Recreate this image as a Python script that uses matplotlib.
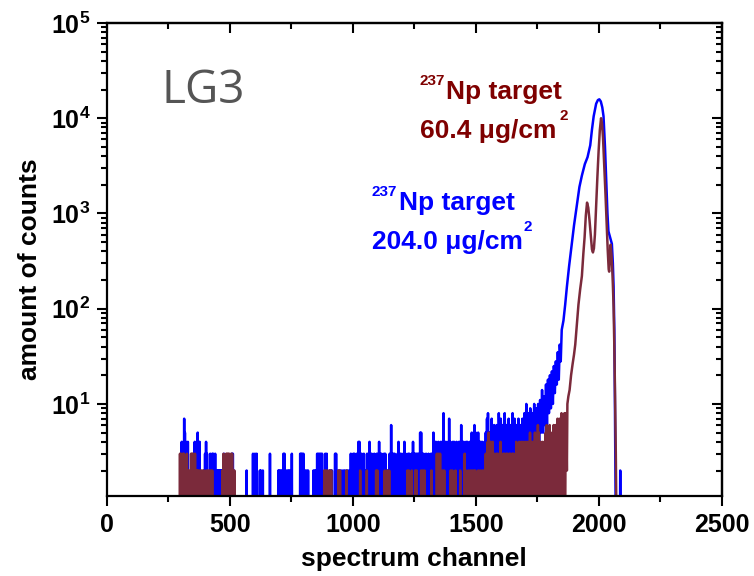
import numpy as np
import matplotlib
matplotlib.use('Agg')
import matplotlib.pyplot as plt
from matplotlib.ticker import MultipleLocator, LogLocator, NullFormatter, LogFormatterMathtext

plt.rcParams.update({
    'font.family': ['Liberation Sans', 'DejaVu Sans'],
    'font.weight': 'bold',
    'mathtext.fontset': 'custom',
    'mathtext.rm': 'Liberation Sans:bold',
    'mathtext.it': 'Liberation Sans:bold',
    'mathtext.bf': 'Liberation Sans:bold',
    'mathtext.default': 'rm',
})

# ---- 204.0 ug/cm2 target (blue) ----------------------------------------
# isolated counts (channel, counts); all other channels of the range are empty
blue_sparse = [
    (304, 4), (308, 3), (311, 4), (314, 7), (317, 5), (321, 4), (325, 3), (329, 4),
    (357, 4), (361, 3), (365, 4), (369, 5), (373, 4), (377, 4),
    (395, 2), (399, 3), (403, 4), (407, 3),
    (420, 3), (424, 2), (428, 3), (432, 3), (436, 2), (440, 3), (444, 2), (448, 2),
    (452, 2), (456, 2), (460, 2), (464, 2), (468, 2), (472, 2), (476, 3),
    (494, 2), (498, 2), (503, 2), (508, 3), (512, 3), (516, 2),
    (568, 2), (594, 3), (598, 2), (602, 3), (609, 3), (622, 2), (626, 2), (634, 2), (663, 3),
    (697, 2), (701, 2), (706, 2), (711, 2), (718, 3), (722, 3), (731, 2), (737, 2),
    (742, 2), (747, 2), (752, 3),
    (786, 3), (790, 3), (794, 3), (799, 3), (806, 2), (812, 2), (818, 2),
    (840, 2), (845, 2), (850, 2), (855, 3), (860, 3), (865, 3), (870, 3), (875, 3),
    (888, 3), (894, 3), (905, 2), (910, 2), (915, 2), (928, 3), (932, 3),
    (942, 2), (948, 2), (955, 2), (962, 2), (968, 2), (975, 2), (981, 2), (988, 2),
    (992, 3), (997, 2), (1002, 3), (1007, 3), (1012, 2), (1016, 3),
    (1023, 4), (1027, 4), (1031, 3), (1036, 3), (1040, 2), (1045, 3), (1050, 2),
    (1058, 3), (1064, 3), (1068, 4), (1072, 3), (1077, 3), (1082, 2), (1087, 3),
    (1092, 2), (1097, 3), (1103, 3), (1107, 4), (1112, 3), (1117, 3), (1122, 2),
    (1127, 3), (1132, 3), (1137, 2), (1142, 2), (1150, 3), (1156, 6), (1160, 3),
    (1165, 3), (1170, 3), (1176, 2), (1182, 3), (1186, 4), (1191, 3), (1196, 3),
    (1200, 2), (1205, 3), (1210, 4), (1215, 3), (1220, 2), (1225, 3), (1230, 3),
    (1235, 2), (1240, 3), (1245, 4), (1250, 3), (1255, 3), (1260, 3), (1265, 3),
    (1270, 3), (1274, 5), (1278, 5), (1283, 3), (1288, 3), (1293, 2), (1298, 3),
    (1303, 2), (1308, 3), (1313, 2), (1318, 3), (1323, 3), (1328, 5), (1333, 4),
    (1338, 4), (1343, 3), (1348, 4), (1353, 3), (1358, 4), (1364, 4), (1369, 8),
    (1374, 4), (1379, 4), (1384, 3), (1388, 4), (1392, 7), (1397, 4), (1402, 3),
    (1407, 4), (1412, 4), (1417, 3), (1422, 4), (1427, 3), (1432, 4), (1437, 4),
    (1441, 6), (1446, 4), (1451, 4), (1456, 3), (1461, 4), (1466, 4), (1471, 3),
    (1476, 4), (1480, 4), (1484, 5), (1490, 4), (1495, 6), (1500, 5), (1505, 4),
    (1510, 5), (1515, 4), (1520, 4), (1526, 4), (1531, 3), (1536, 4), (1541, 5),
    (1546, 7), (1550, 8), (1555, 5),
]
# rising tail, every sample filled
blue_band = [
    (1560, 2), (1565, 7), (1570, 2), (1575, 6), (1580, 3), (1585, 6), (1590, 2), (1594, 8),
    (1598, 3), (1602, 7), (1606, 2), (1610, 6), (1614, 3), (1618, 8), (1622, 2), (1626, 6),
    (1630, 3), (1634, 7), (1638, 2), (1642, 6), (1646, 3), (1650, 8), (1654, 2), (1658, 7),
    (1662, 3), (1666, 6), (1670, 2), (1674, 7), (1678, 3), (1682, 6), (1686, 2), (1690, 7),
    (1694, 3), (1698, 8), (1702, 3), (1706, 10), (1710, 3), (1714, 8), (1718, 4), (1722, 9),
    (1726, 3), (1730, 8), (1734, 4), (1738, 10), (1742, 4), (1746, 9), (1750, 4), (1754, 10),
    (1758, 4), (1762, 11), (1766, 5), (1770, 14), (1774, 5), (1778, 12), (1782, 6), (1786, 16),
    (1790, 6), (1794, 18), (1798, 8), (1802, 20), (1806, 9), (1810, 22), (1814, 10), (1818, 25),
    (1822, 13), (1826, 28), (1830, 16), (1834, 35), (1838, 18), (1842, 42), (1846, 28), (1850, 60),
]
blue_peak = [
    (1857, 75), (1864, 110), (1871, 170), (1880, 280), (1891, 480), (1900, 750), (1912, 1250),
    (1922, 1900), (1932, 2500), (1944, 3300), (1955, 3900), (1966, 5200), (1973, 7600),
    (1980, 10500), (1990, 14200), (1997, 15500), (2003, 15800), (2009, 15000), (2015, 13000),
    (2020, 10500), (2026, 5000), (2031, 2300), (2036, 1000), (2040, 650), (2047, 560),
    (2054, 480), (2058, 300), (2061, 170), (2064, 60), (2066, 14), (2070, 0),
]
blue_after = [(2088, 2)]

# ---- 60.4 ug/cm2 target (brown) ----------------------------------------
brown_sparse = [
    (297, 3), (301, 3), (305, 2), (309, 3), (313, 3), (317, 2), (321, 2), (325, 3), (329, 2),
    (333, 2), (342, 3), (346, 3), (350, 3), (354, 2), (358, 3), (362, 2), (366, 2), (370, 2),
    (376, 2), (382, 2), (388, 2), (394, 2), (404, 2), (410, 2), (416, 2), (422, 2), (428, 2),
    (470, 2), (474, 3), (478, 2), (485, 3), (489, 3), (493, 3), (497, 3), (501, 2), (505, 3),
    (509, 3), (513, 2), (518, 2),
    (884, 2), (890, 2), (897, 2), (905, 2), (912, 2), (942, 2), (948, 2), (975, 2), (1030, 2),
    (1057, 2), (1095, 2), (1100, 2), (1130, 2), (1140, 2), (1148, 2), (1222, 2), (1228, 2),
    (1240, 2), (1254, 2), (1260, 2), (1278, 2), (1285, 2), (1292, 2), (1320, 2), (1342, 3),
    (1348, 3), (1355, 3), (1365, 2), (1372, 2), (1398, 2), (1405, 2), (1418, 2), (1437, 2),
    (1455, 3), (1460, 2), (1470, 2), (1478, 2), (1485, 2), (1492, 2), (1498, 2), (1510, 2),
    (1518, 2), (1526, 2), (1533, 2),
    (1541, 3), (1545, 3), (1549, 4), (1553, 5), (1557, 4), (1561, 4), (1565, 3), (1569, 4),
    (1573, 2), (1577, 3), (1581, 2), (1585, 3), (1589, 3), (1593, 2), (1597, 3), (1601, 4),
    (1605, 3), (1609, 2), (1613, 3), (1617, 3), (1621, 2), (1625, 3), (1629, 3), (1633, 2),
    (1637, 3), (1641, 3), (1645, 2), (1649, 3), (1653, 3), (1657, 2), (1661, 3), (1665, 4),
    (1669, 3), (1673, 3), (1677, 4), (1681, 3), (1685, 4), (1689, 2), (1693, 4), (1697, 3),
    (1701, 4), (1705, 3), (1709, 4), (1713, 3), (1717, 4), (1721, 5), (1725, 3), (1729, 4),
    (1733, 3), (1737, 4), (1741, 5), (1745, 3), (1749, 4), (1753, 6), (1757, 5), (1761, 3),
    (1765, 4), (1769, 3), (1773, 4), (1777, 3), (1781, 4), (1785, 5), (1789, 6), (1793, 4),
    (1797, 5), (1801, 6), (1805, 5), (1809, 4), (1813, 5), (1817, 6), (1821, 5), (1825, 6),
    (1829, 5), (1833, 7), (1837, 6), (1841, 7), (1845, 6), (1849, 8), (1853, 7), (1857, 6),
    (1861, 8),
]
brown_peak = [
    (1866, 8), (1869, 5), (1871, 2), (1873, 10), (1877, 12), (1882, 14), (1888, 20), (1894, 26),
    (1900, 33), (1905, 42), (1912, 70), (1918, 110), (1925, 160), (1932, 220), (1938, 380),
    (1943, 560), (1948, 950), (1953, 1300), (1958, 1150), (1963, 850), (1968, 600), (1973, 420),
    (1977, 390), (1981, 430), (1985, 600), (1990, 1200), (1995, 2400), (2000, 4500),
    (2005, 7500), (2010, 10000), (2014, 8800), (2018, 6200), (2023, 3200), (2028, 1600),
    (2033, 750), (2037, 420), (2041, 260), (2043, 245), (2046, 350), (2049, 470), (2052, 380),
    (2055, 280), (2058, 180), (2061, 105), (2064, 40), (2067, 12), (2070, 3), (2073, 0),
]

BLUE = '#0000ff'
BROWN = '#7b2a3b'
DARKRED = '#7f0000'


def channels(sparse, start, stop):
    ch = np.arange(start, stop)
    n = np.zeros(len(ch))
    for c, v in sparse:
        n[c - start] = v
    return ch, n


def pts(seq):
    return np.array([c for c, _ in seq]), np.array([v for _, v in seq], dtype=float)


def build(parts):
    ch = np.concatenate([p[0] for p in parts])
    n = np.concatenate([p[1] for p in parts])
    return ch, np.where(n < 1, 0.5, n)   # empty channels sit below the axis


bx, by = build([channels(blue_sparse, 250, 1558), pts(blue_band), pts(blue_peak),
                channels(blue_after, 2071, 2500)])
rx, ry = build([channels(brown_sparse, 250, 1865), pts(brown_peak),
                channels([], 2074, 2500)])

fig = plt.figure(figsize=(7.54, 5.76), dpi=100, facecolor='white')
ax = fig.add_axes([107 / 754, 80 / 576, 614.5 / 754, 473 / 576])

ax.plot(bx, by, color=BLUE, lw=1.8)
ax.plot(rx, ry, color=BROWN, lw=1.8)

ax.set_yscale('log')
ax.set_xlim(0, 2500)
ax.set_ylim(1.08, 1e5)

ax.xaxis.set_major_locator(MultipleLocator(500))
ax.xaxis.set_minor_locator(MultipleLocator(250))
ax.yaxis.set_major_locator(LogLocator(base=10, numticks=10))
ax.yaxis.set_minor_locator(LogLocator(base=10, subs=np.arange(2, 10), numticks=20))
ax.yaxis.set_major_formatter(LogFormatterMathtext())
ax.yaxis.set_minor_formatter(NullFormatter())

for s in ax.spines.values():
    s.set_linewidth(1.6)
ax.tick_params(which='both', direction='out', width=1.5, labelsize=18, top=False, right=False)
ax.tick_params(which='major', length=7, pad=5)
ax.tick_params(which='minor', length=4)

# mirrored ticks pointing inwards on top and right
secx = ax.secondary_xaxis('top')
secx.xaxis.set_major_locator(MultipleLocator(500))
secx.xaxis.set_minor_locator(MultipleLocator(250))
secx.tick_params(which='both', direction='in', width=1.5, labeltop=False)
secx.tick_params(which='major', length=7)
secx.tick_params(which='minor', length=4)
secy = ax.secondary_yaxis('right')
secy.tick_params(which='both', direction='in', width=1.5, labelright=False)
secy.tick_params(which='major', length=7)
secy.tick_params(which='minor', length=4)
for sec in (secx, secy):
    for s in sec.spines.values():
        s.set_linewidth(1.6)

fig.text(414 / 754, 1 - 566 / 576, 'spectrum channel', ha='center', va='baseline',
         fontsize=19, fontweight='bold')
fig.text(30 / 754, 1 - 269 / 576, 'amount of counts', ha='center', va='center',
         rotation=90, fontsize=19, fontweight='bold')

fig.text(162 / 754, 1 - 103 / 576, 'LG3', ha='left', va='baseline', fontsize=33,
         family=['Open Sans', 'DejaVu Sans'], fontweight='normal', color='#555555')


def label(x, y, color, line2, sup2_x):
    # x, y: left edge of the superscript "237" and baseline of "Np target", in pixels
    fig.text(x / 754, 1 - (y - 14) / 576, '237', ha='left', va='baseline',
             fontsize=11, fontweight='bold', color=color)
    fig.text((x + 26.5) / 754, 1 - y / 576, 'Np target', ha='left', va='baseline',
             fontsize=19, fontweight='bold', color=color)
    fig.text(x / 754, 1 - (y + 39) / 576, line2, ha='left', va='baseline',
             fontsize=19, fontweight='bold', color=color)
    fig.text(sup2_x / 754, 1 - (y + 21) / 576, '2', ha='left', va='baseline',
             fontsize=11, fontweight='bold', color=color)


label(420, 99, DARKRED, '60.4 \u03bcg/cm', 559)
label(372, 210, BLUE, '204.0 \u03bcg/cm', 523)

fig.savefig('out.png', dpi=100, facecolor='white')
